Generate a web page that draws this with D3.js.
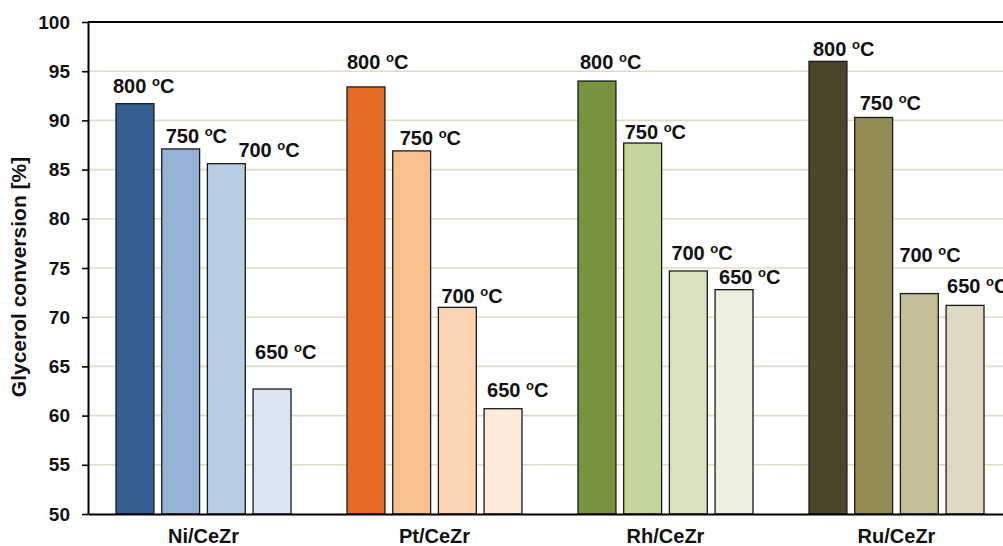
<!DOCTYPE html>
<html>
<head>
<meta charset="utf-8">
<script src="https://cdn.jsdelivr.net/npm/d3@7"></script>
<style>
  html, body { margin: 0; padding: 0; background: #fff; }
  svg { display: block; font-family: "Liberation Sans", Arial, sans-serif; }
</style>
</head>
<body>
<svg id="chart" width="1003" height="546"></svg>
<script>
// ---- data ----
const categories = ["Ni/CeZr", "Pt/CeZr", "Rh/CeZr", "Ru/CeZr"];
const temperatures = ["800", "750", "700", "650"];
const niValues = [91.7, 87.1, 85.6, 62.7];
const ptValues = [93.4, 86.9, 71.0, 60.7];
const rhValues = [94.0, 87.7, 74.7, 72.8];
const ruValues = [96.0, 90.3, 72.4, 71.2];
// label baseline heights (in % units) as placed in the original
const niLabelAt = [92.75, 87.67, 86.31, 65.72];
const ptLabelAt = [95.22, 87.5, 71.41, 61.86];
const rhLabelAt = [95.22, 88.11, 75.81, 73.34];
const ruLabelAt = [96.54, 91.06, 75.64, 72.43];
const yTicks = [50, 55, 60, 65, 70, 75, 80, 85, 90, 95, 100];
const yTitle = "Glycerol conversion [%]";

// ---- styles ----
const palette = {
  "Ni/CeZr": ["#365f91", "#95b3d7", "#b9cde5", "#dce6f2"],
  "Pt/CeZr": ["#e56c25", "#f8c08e", "#fbd4b4", "#fdeadb"],
  "Rh/CeZr": ["#77933c", "#c3d69b", "#d7e4bd", "#ebf1de"],
  "Ru/CeZr": ["#4a452a", "#948a54", "#c4bd97", "#ddd9c3"]
};
const labelNudge = {
  "Ni/CeZr": [-3, 4, 31, 2],
  "Pt/CeZr": [0, 7, 3, 3],
  "Rh/CeZr": [2, 1, 2, 4],
  "Ru/CeZr": [4, 5, -1, 1]
};

const valuesBy = { "Ni/CeZr": niValues, "Pt/CeZr": ptValues, "Rh/CeZr": rhValues, "Ru/CeZr": ruValues };
const labelsBy = { "Ni/CeZr": niLabelAt, "Pt/CeZr": ptLabelAt, "Rh/CeZr": rhLabelAt, "Ru/CeZr": ruLabelAt };

const rows = [];
categories.forEach(c => temperatures.forEach((t, i) => {
  rows.push({ cat: c, temp: t, value: valuesBy[c][i], labelAt: labelsBy[c][i], idx: i });
}));

const svg = d3.select("#chart");
const plotLeft = 88, plotRight = 1012, plotTop = 22, plotBottom = 514;

const y = d3.scaleLinear().domain([50, 100]).range([plotBottom, plotTop]);
const x0 = d3.scaleBand().domain(categories).range([plotLeft, plotRight]).paddingInner(0).paddingOuter(0);
const x1 = d3.scaleBand().domain(temperatures).range([28, x0.bandwidth() - 28]).paddingInner(0.17).paddingOuter(0);

// gridlines
svg.append("g").selectAll("line")
  .data(yTicks.filter(v => v > 50 && v < 100))
  .join("line")
  .attr("x1", plotLeft).attr("x2", 1003)
  .attr("y1", d => y(d)).attr("y2", d => y(d))
  .attr("stroke", "#e0dcc4").attr("stroke-width", 1.6);

// top border line
svg.append("line")
  .attr("x1", plotLeft).attr("x2", 1003)
  .attr("y1", y(100)).attr("y2", y(100))
  .attr("stroke", "#000").attr("stroke-width", 2);

// bars
svg.append("g").selectAll("rect")
  .data(rows)
  .join("rect")
  .attr("x", d => x0(d.cat) + x1(d.temp))
  .attr("y", d => y(d.value))
  .attr("width", x1.bandwidth())
  .attr("height", d => y(50) - y(d.value))
  .attr("fill", d => palette[d.cat][d.idx])
  .attr("stroke", "#1a1a1a")
  .attr("stroke-width", 1.3);

// bar labels
const lab = svg.append("g").selectAll("text")
  .data(rows)
  .join("text")
  .attr("x", d => x0(d.cat) + x1(d.temp) + labelNudge[d.cat][d.idx])
  .attr("y", d => y(d.labelAt))
  .attr("font-size", 20)
  .attr("font-weight", "bold")
  .attr("fill", "#111");
lab.append("tspan").text(d => d.temp + "\u00A0");
lab.append("tspan").attr("font-size", 13).attr("dy", -7).text("o");
lab.append("tspan").attr("dy", 7).text("C");

// y axis
const yAxis = d3.axisLeft(y).tickValues(yTicks).tickSize(6).tickPadding(12).tickSizeOuter(0);
const gy = svg.append("g").attr("transform", `translate(${plotLeft},0)`).call(yAxis);
gy.select(".domain").attr("stroke", "#000").attr("stroke-width", 2);
gy.selectAll(".tick line").attr("stroke", "#000").attr("stroke-width", 1.6);
gy.selectAll(".tick text")
  .attr("font-size", 19).attr("font-weight", "bold").attr("fill", "#111")
  .attr("font-family", "Liberation Sans, Arial, sans-serif");

// x axis
const xAxis = d3.axisBottom(x0).tickSize(0).tickPadding(0).tickSizeOuter(0);
const gx = svg.append("g").attr("transform", `translate(0,${plotBottom})`).call(xAxis);
gx.select(".domain").attr("stroke", "#000").attr("stroke-width", 2);
gx.selectAll(".tick text")
  .attr("dy", 0).attr("y", 29)
  .attr("font-size", 20).attr("font-weight", "bold").attr("fill", "#111")
  .attr("font-family", "Liberation Sans, Arial, sans-serif");

// y title
svg.append("text")
  .attr("transform", `translate(26,${277}) rotate(-90)`)
  .attr("text-anchor", "middle")
  .attr("font-size", 21).attr("font-weight", "bold").attr("fill", "#111")
  .text(yTitle);
</script>
</body>
</html>
